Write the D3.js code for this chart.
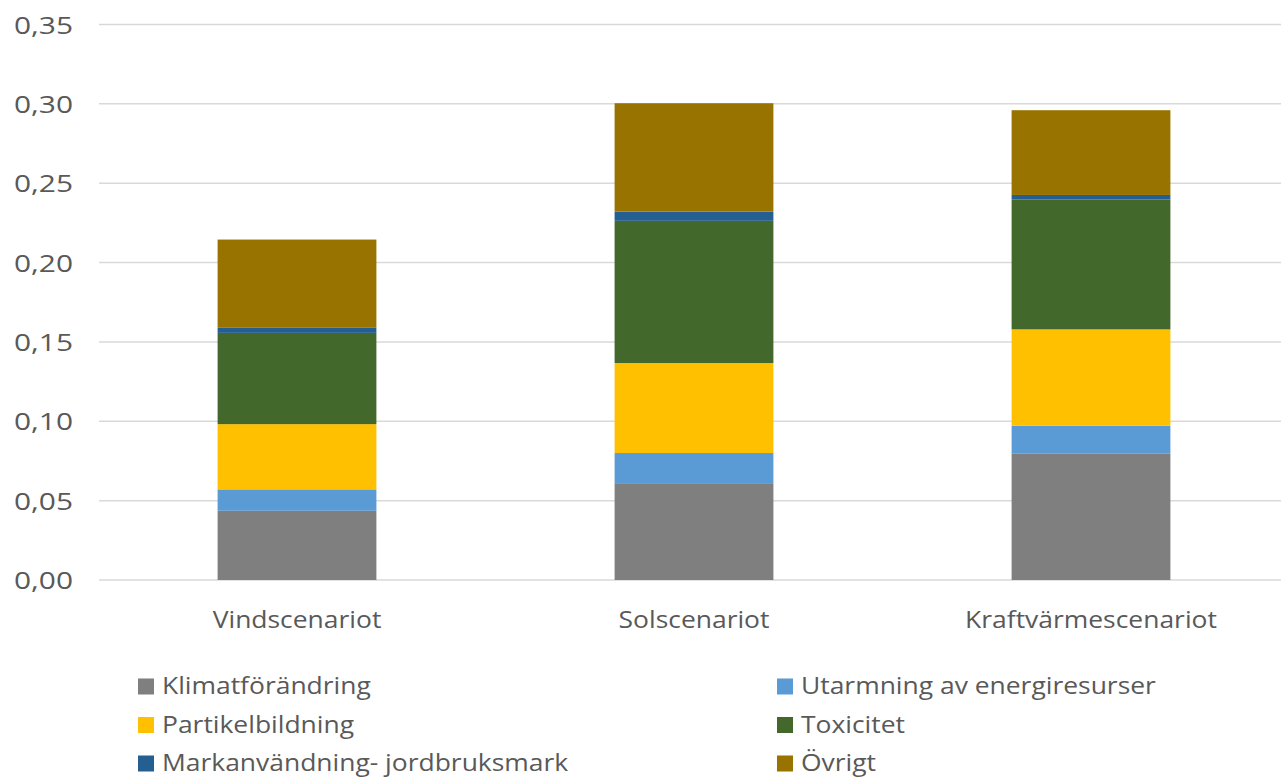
<!DOCTYPE html>
<html>
<head>
<meta charset="utf-8">
<script src="https://cdn.jsdelivr.net/npm/d3@7"></script>
<style>
  body { margin: 0; background: #fff; }
  text { font-family: "Open Sans", "Noto Sans", sans-serif; fill: #595959; font-size: 23px; }
</style>
</head>
<body>
<div id="chart"></div>
<script>
var svgWidth = 1281;
var svgHeight = 778;

// data
var scenarios = ["Vindscenariot", "Solscenariot", "Kraftvärmescenariot"];
var categories = ["Klimatförändring", "Utarmning av energiresurser", "Partikelbildning",
  "Toxicitet", "Markanvändning- jordbruksmark", "Övrigt"];
var klimat = [0.0436, 0.0610, 0.0798];
var utarmning = [0.0135, 0.0190, 0.0174];
var partikel = [0.0411, 0.0567, 0.0607];
var toxicitet = [0.0575, 0.0896, 0.0818];
var markanv = [0.0032, 0.0058, 0.0029];
var ovrigt = [0.0556, 0.0683, 0.0534];
var yTicks = [0, 0.05, 0.10, 0.15, 0.20, 0.25, 0.30, 0.35];
var colors = ["#7f7f7f", "#5b9bd5", "#ffc000", "#43682b", "#255e91", "#997300"];

var seriesValues = [klimat, utarmning, partikel, toxicitet, markanv, ovrigt];

var rows = scenarios.map(function(s, i) {
  var r = { scenario: s };
  categories.forEach(function(c, j) { r[c] = seriesValues[j][i]; });
  return r;
});

// the source text is a bit stretched sideways
var stretch = 1.15;

var svg = d3.select("#chart")
  .append("svg")
  .attr("width", svgWidth)
  .attr("height", svgHeight);

var x = d3.scaleBand()
  .domain(scenarios)
  .range([98.5, 1289.5])
  .paddingInner(0.6)
  .paddingOuter(0.3);

var y = d3.scaleLinear()
  .domain([0, 0.35])
  .range([580, 24.5]);

// gridlines
svg.append("g")
  .selectAll("line")
  .data(yTicks)
  .enter()
  .append("line")
  .attr("x1", 99)
  .attr("x2", svgWidth)
  .attr("y1", d => y(d))
  .attr("y2", d => y(d))
  .attr("stroke", "#d9d9d9")
  .attr("stroke-width", 1.5);

// y tick labels
svg.append("g")
  .selectAll("text")
  .data(yTicks)
  .enter()
  .append("text")
  .attr("transform", d => `translate(73, ${y(d)}) scale(1.3, 1)`)
  .attr("dy", "0.4em")
  .attr("text-anchor", "end")
  .text(d => d3.format(".2f")(d).replace(".", ","));

// stacked bars
var stack = d3.stack().keys(categories);
var layers = stack(rows);

svg.append("g")
  .selectAll("g")
  .data(layers)
  .enter()
  .append("g")
  .attr("fill", (d, i) => colors[i])
  .selectAll("rect")
  .data(d => d)
  .enter()
  .append("rect")
  .attr("x", d => x(d.data.scenario))
  .attr("width", x.bandwidth())
  .attr("y", d => y(d[1]))
  .attr("height", d => y(d[0]) - y(d[1]));

// category labels
svg.append("g")
  .selectAll("text")
  .data(scenarios)
  .enter()
  .append("text")
  .attr("transform", d => `translate(${x(d) + x.bandwidth() / 2}, 620) scale(${stretch}, 1)`)
  .attr("dy", "0.35em")
  .attr("text-anchor", "middle")
  .text(d => d);

// legend, two columns
var legend = svg.append("g")
  .selectAll("g")
  .data(categories)
  .enter()
  .append("g")
  .attr("transform", (d, i) => `translate(${i % 2 === 0 ? 138 : 777}, ${686 + Math.floor(i / 2) * 38.5})`);

legend.append("rect")
  .attr("x", 0)
  .attr("y", -7.5)
  .attr("width", 16)
  .attr("height", 16)
  .attr("fill", (d, i) => colors[i]);

legend.append("text")
  .attr("transform", `translate(24, 0) scale(${stretch}, 1)`)
  .attr("dy", "0.35em")
  .text(d => d);
</script>
</body>
</html>
